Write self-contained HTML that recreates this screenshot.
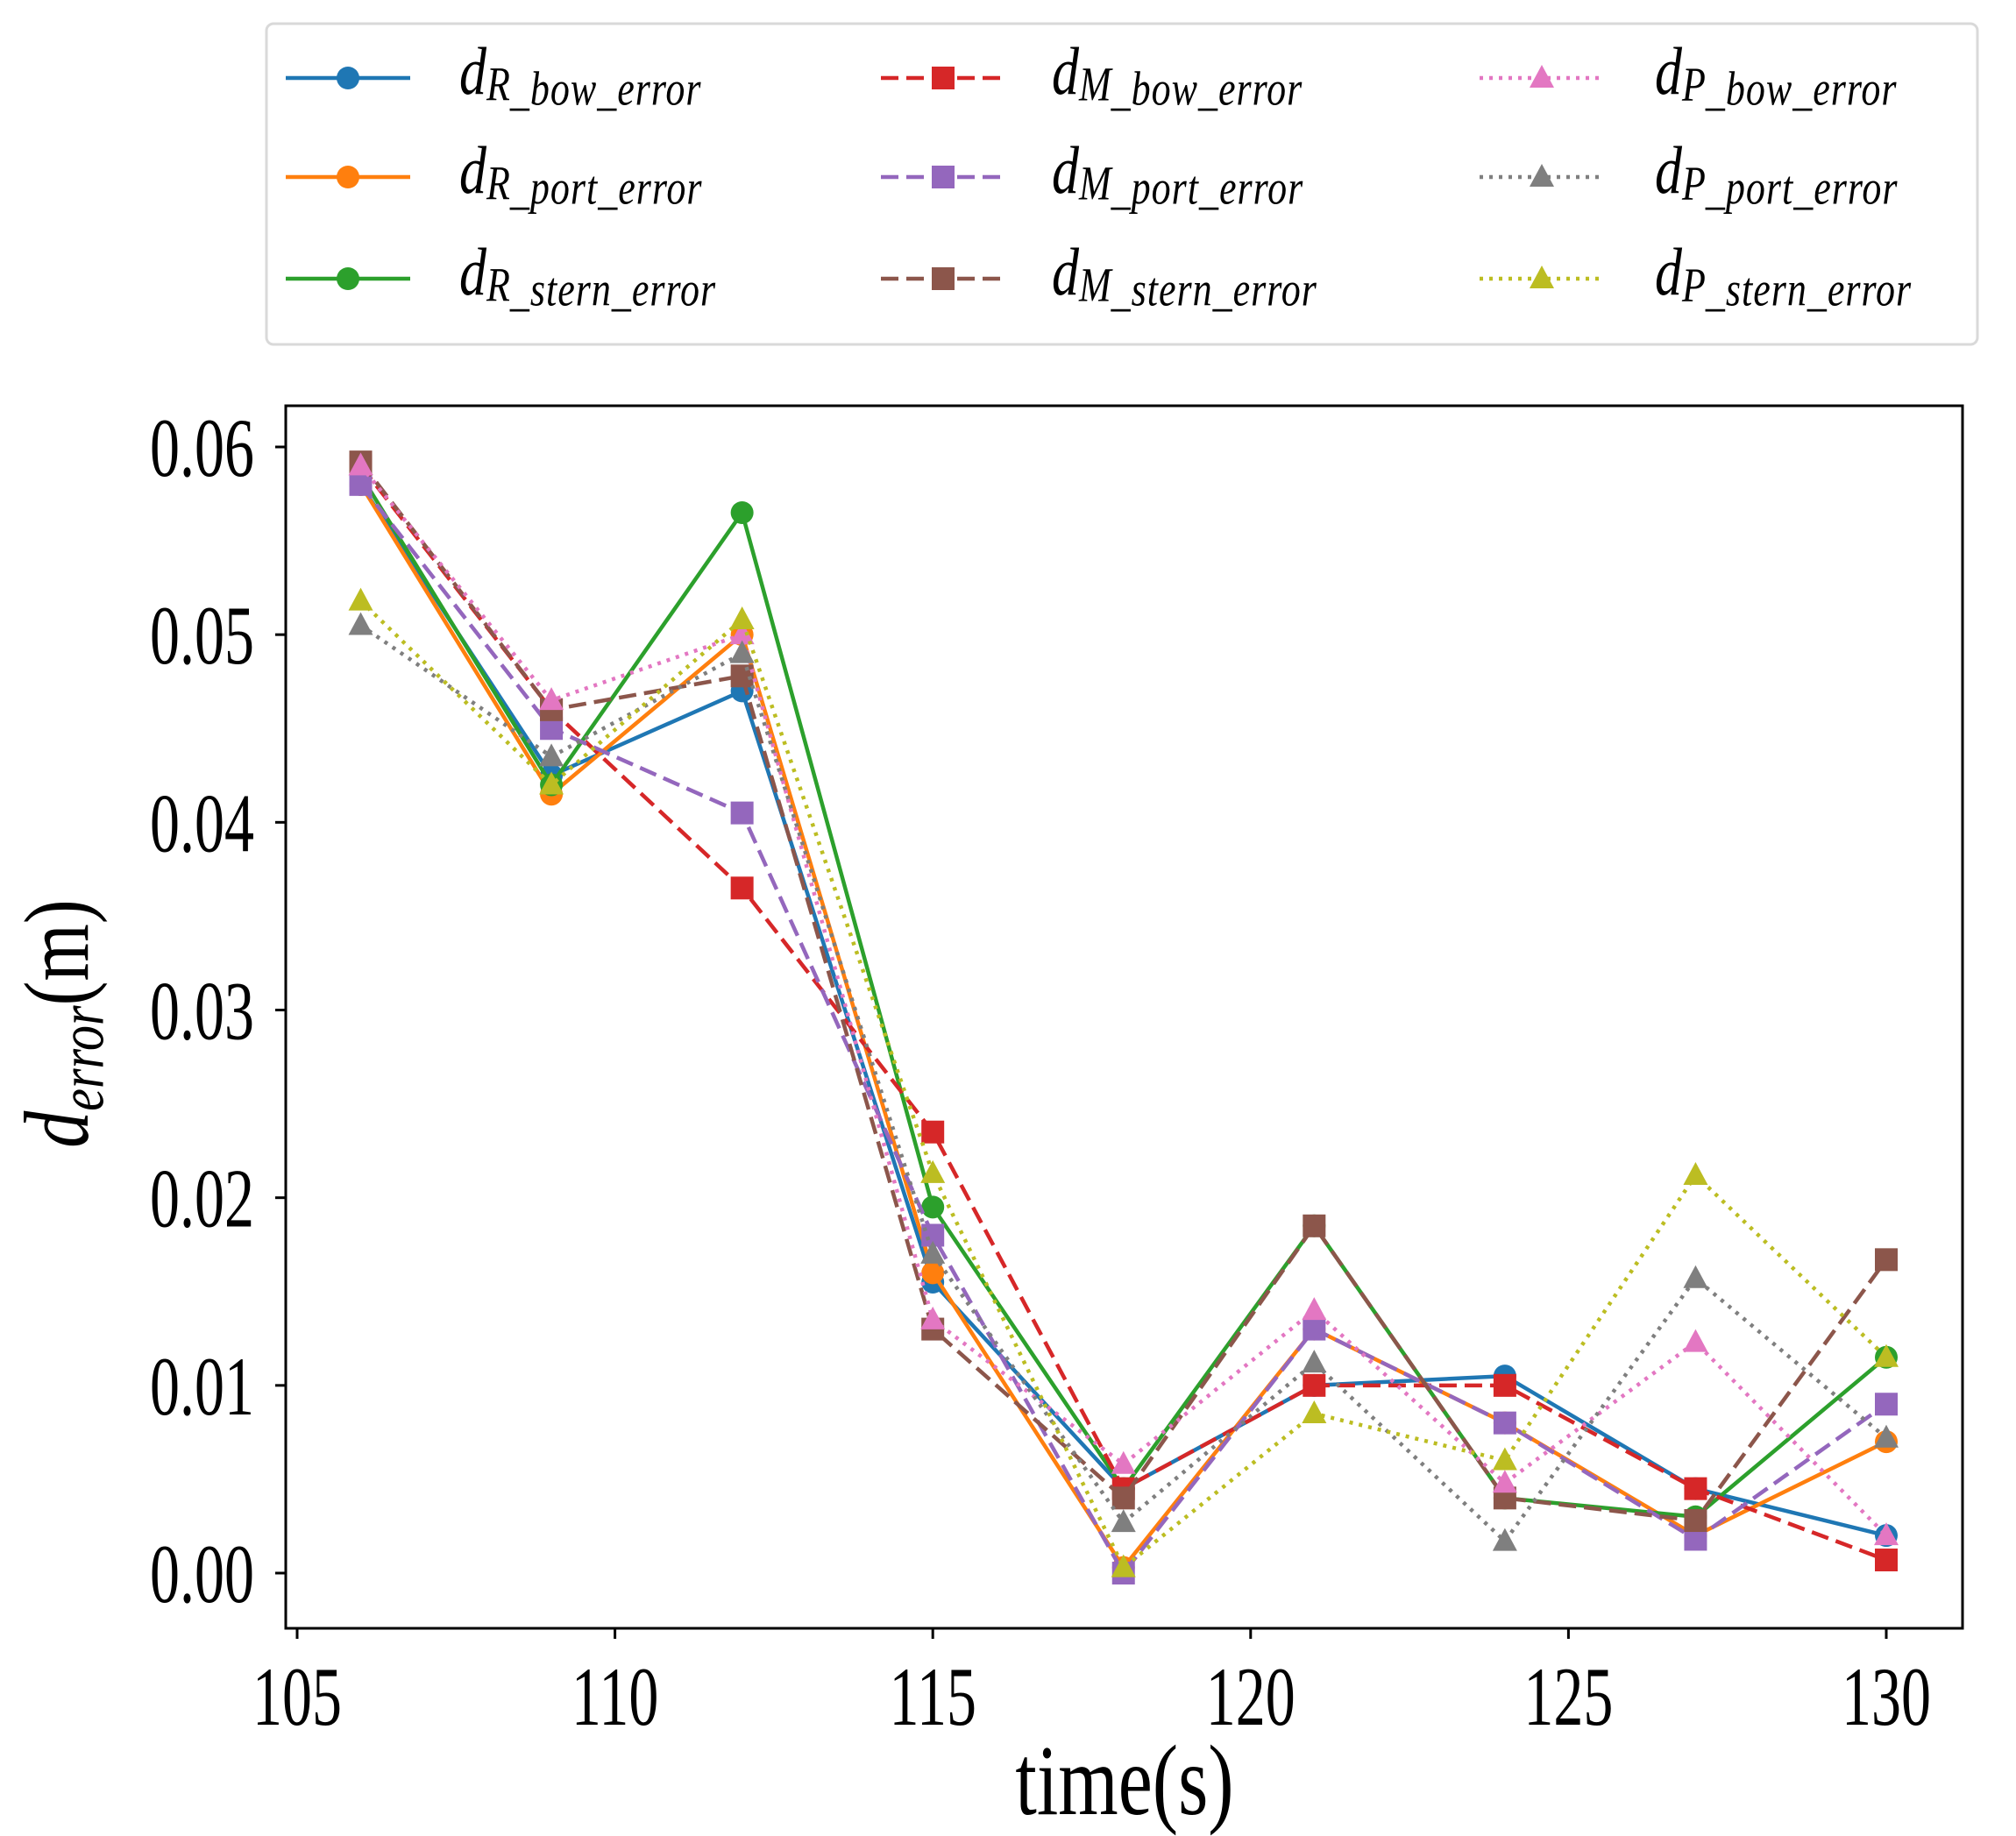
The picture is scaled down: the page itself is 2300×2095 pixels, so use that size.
<!DOCTYPE html>
<html><head><meta charset="utf-8"><style>
html,body{margin:0;padding:0;background:#fff;}
svg{display:block;font-family:"Liberation Serif",serif;}
</style></head><body>
<svg id="chart" width="2300" height="2095" viewBox="0 0 2300 2095" xmlns="http://www.w3.org/2000/svg">
<rect width="2300" height="2095" fill="#fff"/>
<g id="legend"></g>
<g id="plot"></g>
</svg>
<script>
const times = [106,109,112,115,118,121,124,127,130];
const seriesNames = ["R_bow","R_port","R_stern","M_bow","M_port","M_stern","P_bow","P_port","P_stern"];
const rBow   = [0.058,0.0425,0.047,0.0155,0.0045,0.010,0.0105,0.0045,0.002];
const rPort  = [0.058,0.0415,0.050,0.016,0.0003,0.013,0.008,0.002,0.007];
const rStern = [0.0585,0.042,0.0565,0.0195,0.0045,0.0185,0.004,0.003,0.0115];
const mBow   = [0.059,0.046,0.0365,0.0235,0.0045,0.010,0.010,0.0045,0.0007];
const mPort  = [0.058,0.045,0.0405,0.018,0.0,0.013,0.008,0.0018,0.009];
const mStern = [0.0592,0.046,0.0478,0.013,0.004,0.0185,0.004,0.0028,0.0167];
const pBow   = [0.059,0.0465,0.050,0.0135,0.0058,0.014,0.0048,0.0123,0.002];
const pPort  = [0.0505,0.0435,0.049,0.017,0.0027,0.0112,0.0017,0.0157,0.0072];
const pStern = [0.0518,0.042,0.0508,0.0213,0.0003,0.0085,0.006,0.0212,0.0115];
const xTicks = [105,110,115,120,125,130];
const yTicks = [0,0.01,0.02,0.03,0.04,0.05,0.06];
const yTickLabels = ["0.00","0.01","0.02","0.03","0.04","0.05","0.06"];

const NS="http://www.w3.org/2000/svg";
const L=326,R=2239,T=463,B=1858;
const X=v=>339+(v-105)*(2152-339)/25;
const Y=v=>1795-v*(1795-510)/0.06;
function mk(tag,attrs,parent){const e=document.createElementNS(NS,tag);for(const k in attrs)e.setAttribute(k,attrs[k]);parent.appendChild(e);return e;}
const plot=document.getElementById('plot'), legend=document.getElementById('legend');

const styles=[
 {d:rBow,c:"#1f77b4",m:"o",ls:"",sub:"R",nm:"bow"},
 {d:rPort,c:"#ff7f0e",m:"o",ls:"",sub:"R",nm:"port"},
 {d:rStern,c:"#2ca02c",m:"o",ls:"",sub:"R",nm:"stern"},
 {d:mBow,c:"#d62728",m:"s",ls:"20 9",sub:"M",nm:"bow"},
 {d:mPort,c:"#9467bd",m:"s",ls:"20 9",sub:"M",nm:"port"},
 {d:mStern,c:"#8c564b",m:"s",ls:"20 9",sub:"M",nm:"stern"},
 {d:pBow,c:"#e377c2",m:"^",ls:"4 7",sub:"P",nm:"bow"},
 {d:pPort,c:"#7f7f7f",m:"^",ls:"4 7",sub:"P",nm:"port"},
 {d:pStern,c:"#bcbd22",m:"^",ls:"4 7",sub:"P",nm:"stern"}
];
function marker(g,type,x,y,c){
  let e;
  if(type==="o") e=mk('circle',{cx:x,cy:y,r:13,fill:c},g);
  else if(type==="s") e=mk('rect',{x:x-13,y:y-13,width:26,height:26,fill:c},g);
  else e=mk('polygon',{points:`${x},${y-15} ${x-14},${y+11} ${x+14},${y+11}`,fill:c},g);
  return e;
}
const frame=mk('rect',{x:L,y:T,width:R-L,height:B-T,fill:"none",stroke:"#000","stroke-width":3},plot);


yTicks.forEach((v,i)=>{
  const y=Y(v);
  const t=mk('line',{x1:L-12,x2:L,y1:y,y2:y,stroke:"#000","stroke-width":3},plot);
  
  
  const tx=mk('text',{transform:`translate(290,${y+33}) scale(1,1.4)`,"text-anchor":"end","font-size":68},plot);
  tx.textContent=yTickLabels[i];
  
  
});
xTicks.forEach(v=>{
  const x=X(v);
  const t=mk('line',{x1:x,x2:x,y1:B,y2:B+12,stroke:"#000","stroke-width":3},plot);
  
  
  const tx=mk('text',{transform:`translate(${x},1968) scale(1,1.4)`,"text-anchor":"middle","font-size":68},plot);
  tx.textContent=String(v);
  
  
});
const xt=mk('text',{transform:"translate(1283,2070) scale(1,1.3)","text-anchor":"middle","font-size":88},plot);
xt.textContent="time(s)";


const yt=mk('text',{transform:"translate(100,1168) rotate(-90) scale(1,1.25)","text-anchor":"middle","font-size":84},plot);
yt.innerHTML='<tspan font-style="italic">d</tspan><tspan font-style="italic" font-size="58" dy="14">error</tspan><tspan dy="-14">(m)</tspan>';



styles.forEach((s,si)=>{
  const g=mk('g',{},plot);
  
  
  const pts=s.d.map((v,i)=>X(times[i])+","+Y(v)).join(" ");
  const pl=mk('polyline',{points:pts,fill:"none",stroke:s.c,"stroke-width":4.5,"stroke-dasharray":s.ls||"none"},g);
  
  
  s.d.forEach((v,i)=>{
    const m=marker(g,s.m,X(times[i]),Y(v),s.c);
    
    
  });
});

const lb=mk('rect',{x:304,y:27,width:1952,height:366,rx:8,fill:"#fff",stroke:"#d9d9d9","stroke-width":3},legend);


const cols=[[326,524],[1005,1200],[1688,1888]];
const rows=[89,202,318];
styles.forEach((s,i)=>{
  const col=cols[Math.floor(i/3)], y=rows[i%3];
  const g=mk('g',{},legend);
  
  
  mk('line',{x1:col[0],x2:col[0]+142,y1:y,y2:y,stroke:s.c,"stroke-width":4.5,"stroke-dasharray":s.ls||"none"},g);
  marker(g,s.m,col[0]+71,y,s.c);
  const t=mk('text',{transform:`translate(${col[1]},${y+18}) scale(1,1.25)`,"font-size":62,"font-style":"italic"},g);
  t.innerHTML=`d<tspan font-size="44" dy="6">${s.sub}</tspan><tspan font-size="44" dy="4" letter-spacing="1">_${s.nm}_error</tspan>`;
});
</script>
</body></html>
